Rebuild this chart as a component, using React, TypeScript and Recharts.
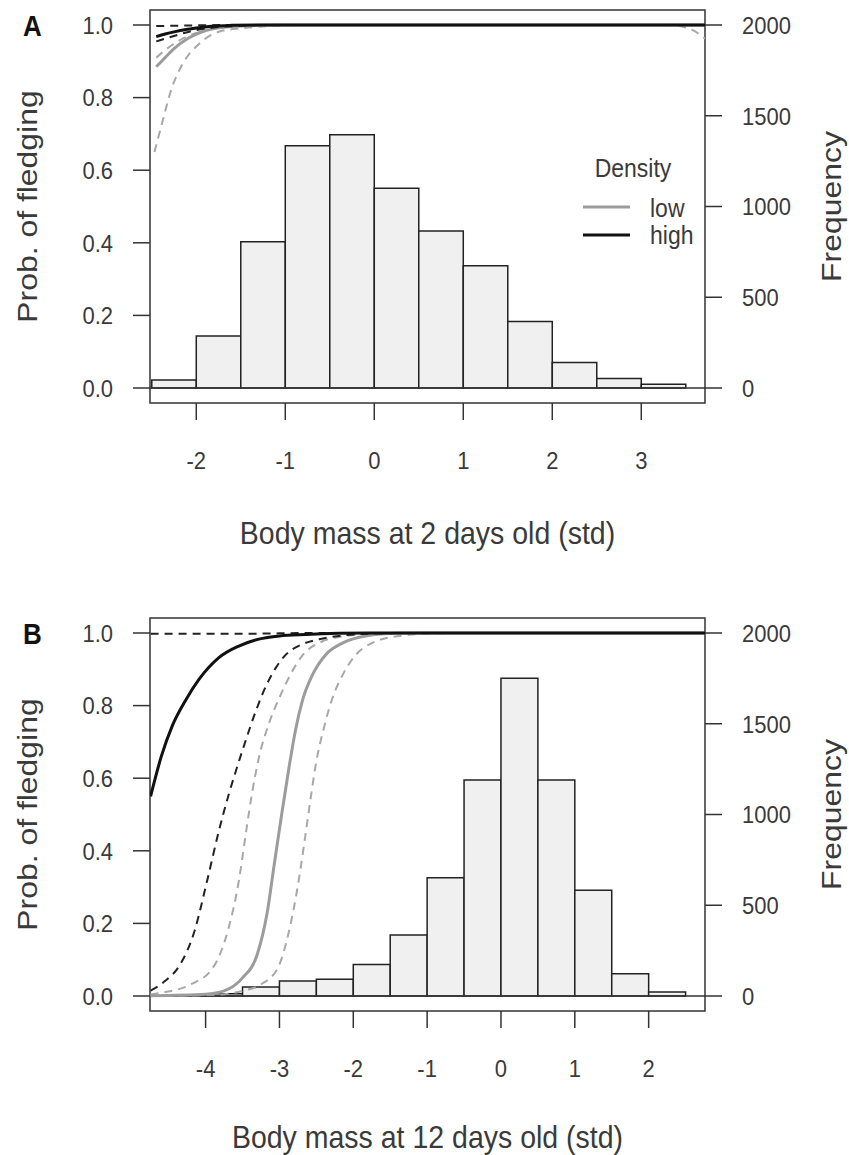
import React from 'react';
import { ComposedChart, Line, XAxis, YAxis, ReferenceArea, ReferenceLine, Legend } from 'recharts';

// ---------- data ----------
const PROB_TICKS = [0, 0.2, 0.4, 0.6, 0.8, 1.0];
const FREQ_TICKS = [0, 500, 1000, 1500, 2000];
const A_X_TICKS = [-2, -1, 0, 1, 2, 3];
const B_X_TICKS = [-4, -3, -2, -1, 0, 1, 2];

const A_BIN_EDGES = [-2.5, -2, -1.5, -1, -0.5, 0, 0.5, 1, 1.5, 2, 2.5, 3, 3.5];
const A_FREQ = [44, 286, 806, 1335, 1396, 1100, 865, 674, 367, 141, 53, 20];
const B_BIN_EDGES = [-4.5, -4, -3.5, -3, -2.5, -2, -1.5, -1, -0.5, 0, 0.5, 1, 1.5, 2, 2.5];
const B_FREQ = [4, 12, 50, 83, 92, 174, 336, 652, 1190, 1750, 1190, 582, 123, 22];

// [x, probability]
const A_LOW_LO = [[-2.47, 0.65], [-2.4, 0.715], [-2.27, 0.83], [-2.15, 0.894], [-1.96, 0.95], [-1.74, 0.982], [-1.49, 0.991], [-1.2, 0.997], [-0.8, 1.0], [3.3, 1.0], [3.5, 0.993], [3.6, 0.983], [3.716, 0.962]];
const A_LOW_HI = [[-2.45, 0.91], [-2.3, 0.94], [-2.15, 0.963], [-2.0, 0.978], [-1.8, 0.99], [-1.5, 0.997], [-1.2, 1.0], [3.716, 1.0]];
const A_LOW_FIT = [[-2.45, 0.885], [-2.35, 0.91], [-2.25, 0.935], [-2.1, 0.962], [-1.95, 0.98], [-1.8, 0.99], [-1.6, 0.996], [-1.3, 0.999], [-1.0, 1.0], [3.716, 1.0]];
const A_HIGH_LO = [[-2.45, 0.955], [-2.3, 0.966], [-2.15, 0.977], [-2.0, 0.986], [-1.8, 0.993], [-1.5, 0.998], [-1.2, 1.0], [3.716, 1.0]];
const A_HIGH_HI = [[-2.45, 0.997], [-2.0, 0.999], [-1.6, 1.0], [3.716, 1.0]];
const A_HIGH_FIT = [[-2.45, 0.968], [-2.35, 0.975], [-2.25, 0.981], [-2.1, 0.988], [-1.95, 0.993], [-1.8, 0.997], [-1.6, 0.999], [-1.3, 1.0], [3.716, 1.0]];

const B_LOW_LO = [[-4.745, 0.0], [-3.8, 0.004], [-3.5, 0.014], [-3.25, 0.032], [-3.02, 0.078], [-2.87, 0.179], [-2.74, 0.317], [-2.64, 0.455], [-2.57, 0.555], [-2.51, 0.635], [-2.39, 0.745], [-2.28, 0.822], [-2.14, 0.886], [-1.96, 0.941], [-1.74, 0.973], [-1.37, 0.992], [-0.9, 0.999], [-0.5, 1.0], [2.763, 1.0]];
const B_LOW_HI = [[-4.745, 0.004], [-4.6, 0.009], [-4.2, 0.032], [-3.9, 0.078], [-3.7, 0.179], [-3.55, 0.317], [-3.45, 0.455], [-3.37, 0.56], [-3.28, 0.655], [-3.14, 0.752], [-3.0, 0.822], [-2.87, 0.878], [-2.69, 0.938], [-2.46, 0.973], [-2.1, 0.992], [-1.6, 0.999], [-1.2, 1.0], [2.763, 1.0]];
const B_LOW_FIT = [[-4.745, 0.001], [-4.0, 0.005], [-3.75, 0.014], [-3.5, 0.05], [-3.3, 0.115], [-3.17, 0.225], [-3.07, 0.363], [-2.97, 0.5], [-2.87, 0.63], [-2.78, 0.735], [-2.69, 0.813], [-2.55, 0.886], [-2.37, 0.941], [-2.14, 0.973], [-1.83, 0.992], [-1.4, 0.999], [-1.0, 1.0], [2.763, 1.0]];
const B_HIGH_LO = [[-4.745, 0.015], [-4.55, 0.041], [-4.35, 0.085], [-4.15, 0.179], [-3.98, 0.317], [-3.82, 0.455], [-3.68, 0.56], [-3.59, 0.62], [-3.46, 0.702], [-3.32, 0.785], [-3.18, 0.855], [-3.05, 0.904], [-2.91, 0.941], [-2.69, 0.969], [-2.46, 0.983], [-2.19, 0.992], [-1.8, 0.998], [-1.4, 1.0], [2.763, 1.0]];
const B_HIGH_HI = [[-4.745, 0.998], [-3.5, 0.998], [-3.0, 0.999], [-2.6, 1.0], [2.763, 1.0]];
const B_HIGH_FIT = [[-4.745, 0.55], [-4.6, 0.66], [-4.45, 0.745], [-4.27, 0.815], [-4.09, 0.872], [-3.82, 0.932], [-3.55, 0.964], [-3.28, 0.983], [-3.0, 0.992], [-2.64, 0.996], [-2.2, 0.999], [-1.8, 1.0], [2.763, 1.0]];

const LEGEND_TITLE = 'Density';
const LEGEND_LABELS = ['low', 'high'];

// ---------- styles ----------
const FONT = '"Liberation Sans", Arial, Helvetica, sans-serif';
const SY = 1.12;
const TXT = '#3a3a3a';
const AX = '#333';
const GRAY = '#9c9c9c';
const GRAY_D = '#a8a8a8';
const BLACK = '#111';
const P_DOMAIN: [number, number] = [-0.04132, 1.04132];
const F_DOMAIN: [number, number] = [-82.64, 2082.64];
const PLOT_TOP = 10;
const PLOT_H = 393;

const pts = (arr: number[][]) => arr.map(([x, p]) => ({ x, p }));

const XTick = (props: any) => {
  const { x, y, payload } = props;
  return (
    <text transform={`translate(${x},${y + 48.5}) scale(1,${SY})`} textAnchor="middle" fontSize={22} fill={TXT} fontFamily={FONT}>
      {String(payload.value)}
    </text>
  );
};
const YTickL = (props: any) => {
  const { x, y, payload } = props;
  return (
    <text transform={`translate(${x},${y}) scale(1,${SY})`} textAnchor="end" dy="0.36em" fontSize={22} fill={TXT} fontFamily={FONT}>
      {Number(payload.value).toFixed(1)}
    </text>
  );
};
const YTickR = (props: any) => {
  const { x, y, payload } = props;
  return (
    <text transform={`translate(${x},${y}) scale(1,${SY})`} textAnchor="start" dy="0.36em" fontSize={22} fill={TXT} fontFamily={FONT}>
      {String(payload.value)}
    </text>
  );
};

const LegendBox = () => (
  <svg width={160} height={140} style={{ overflow: 'visible' }}>
    <text transform={`translate(73,57) scale(1,${SY})`} textAnchor="middle" fontSize={23} fill={TXT} fontFamily={FONT}>{LEGEND_TITLE}</text>
    <line x1={23} x2={70} y1={87} y2={87} stroke={GRAY} strokeWidth={3} />
    <line x1={23} x2={70} y1={115} y2={115} stroke={BLACK} strokeWidth={3} />
    <text transform={`translate(90,97) scale(1,${SY})`} fontSize={23} fill={TXT} fontFamily={FONT}>{LEGEND_LABELS[0]}</text>
    <text transform={`translate(90,124) scale(1,${SY})`} fontSize={23} fill={TXT} fontFamily={FONT}>{LEGEND_LABELS[1]}</text>
  </svg>
);

type PanelProps = {
  letter: string;
  xTitle: string;
  xDomain: [number, number];
  xTicks: number[];
  edges: number[];
  freqs: number[];
  curves: number[][][];
  height: number;
  titleBaseline: number;
  legend?: boolean;
};

const CURVE_STYLE = [
  { stroke: GRAY_D, w: 2, dash: '8 6' },
  { stroke: GRAY_D, w: 2, dash: '8 6' },
  { stroke: GRAY, w: 3, dash: undefined },
  { stroke: '#222', w: 2, dash: '8 6' },
  { stroke: '#222', w: 2, dash: '8 6' },
  { stroke: BLACK, w: 3, dash: undefined },
];

function Panel({ letter, xTitle, xDomain, xTicks, edges, freqs, curves, height, titleBaseline, legend }: PanelProps) {
  const xAxisH = height - PLOT_TOP - PLOT_H;
  const midY = PLOT_TOP + PLOT_H / 2;
  return (
    <ComposedChart width={849} height={height} margin={{ top: PLOT_TOP, right: 0, bottom: 0, left: 0 }}>
      <XAxis
        dataKey="x"
        type="number"
        domain={xDomain}
        allowDataOverflow
        ticks={xTicks}
        interval={0}
        height={xAxisH}
        axisLine={false}
        tickSize={17}
        tickMargin={0}
        tickLine={{ stroke: AX, strokeWidth: 1.5 }}
        tick={<XTick />}
        label={() => (
          <text transform={`translate(427.5,${titleBaseline}) scale(1,${SY})`} textAnchor="middle" fontSize={28.5} fill={TXT} fontFamily={FONT}>
            {xTitle}
          </text>
        )}
      />
      <YAxis
        yAxisId="p"
        orientation="left"
        width={150}
        type="number"
        domain={P_DOMAIN}
        allowDataOverflow
        ticks={PROB_TICKS}
        interval={0}
        axisLine={false}
        tickSize={17}
        tickMargin={20}
        tickLine={{ stroke: AX, strokeWidth: 1.5 }}
        tick={<YTickL />}
        label={() => (
          <g>
            <text transform={`translate(37,${midY}) rotate(-90) scale(${SY},1)`} textAnchor="middle" fontSize={28.5} fill={TXT} fontFamily={FONT}>
              Prob. of fledging
            </text>
            <text transform={`translate(32.5,36.4) scale(1,${SY})`} textAnchor="middle" fontSize={26} fontWeight="bold" fill="#111" fontFamily={FONT}>
              {letter}
            </text>
          </g>
        )}
      />
      <YAxis
        yAxisId="f"
        orientation="right"
        width={144}
        type="number"
        domain={F_DOMAIN}
        allowDataOverflow
        ticks={FREQ_TICKS}
        interval={0}
        axisLine={false}
        tickSize={17}
        tickMargin={20}
        tickLine={{ stroke: AX, strokeWidth: 1.5 }}
        tick={<YTickR />}
        label={() => (
          <text transform={`translate(841,${midY}) rotate(-90) scale(${SY},1)`} textAnchor="middle" fontSize={28.5} fill={TXT} fontFamily={FONT}>
            Frequency
          </text>
        )}
      />
      {freqs.map((f, i) => (
        <ReferenceArea
          key={`bin${i}`}
          yAxisId="f"
          x1={edges[i]}
          x2={edges[i + 1]}
          y1={0}
          y2={f}
          fill="#f0f0f0"
          fillOpacity={1}
          stroke="#222"
          strokeWidth={1.5}
          ifOverflow="visible"
        />
      ))}
      <ReferenceLine yAxisId="f" y={0} stroke={AX} strokeWidth={1.5} />
      {curves.map((c, i) => (
        <Line
          key={`c${i}`}
          yAxisId="p"
          data={pts(c)}
          dataKey="p"
          type="monotone"
          dot={false}
          activeDot={false}
          stroke={CURVE_STYLE[i].stroke}
          strokeWidth={CURVE_STYLE[i].w}
          strokeDasharray={CURVE_STYLE[i].dash}
          isAnimationActive={false}
          legendType="none"
        />
      ))}
      <ReferenceArea
        yAxisId="p"
        x1={xDomain[0]}
        x2={xDomain[1]}
        y1={P_DOMAIN[0]}
        y2={P_DOMAIN[1]}
        fill="none"
        stroke={AX}
        strokeWidth={1.5}
        ifOverflow="visible"
      />
      {legend && (
        <Legend
          layout="horizontal"
          verticalAlign="middle"
          align="center"
          wrapperStyle={{ left: 560, top: 120, width: 160, height: 140 }}
          content={() => <LegendBox />}
        />
      )}
    </ComposedChart>
  );
}

export default function App() {
  return (
    <div style={{ position: 'absolute', left: 0, top: 0, width: 849, height: 1155, background: '#fff', overflow: 'hidden' }}>
      <div style={{ position: 'absolute', left: 0, top: 0 }}>
        <Panel
          letter="A"
          xTitle="Body mass at 2 days old (std)"
          xDomain={[-2.52, 3.716]}
          xTicks={A_X_TICKS}
          edges={A_BIN_EDGES}
          freqs={A_FREQ}
          curves={[A_LOW_LO, A_LOW_HI, A_LOW_FIT, A_HIGH_LO, A_HIGH_HI, A_HIGH_FIT]}
          height={600}
          titleBaseline={544}
          legend
        />
      </div>
      <div style={{ position: 'absolute', left: 0, top: 608 }}>
        <Panel
          letter="B"
          xTitle="Body mass at 12 days old (std)"
          xDomain={[-4.753, 2.763]}
          xTicks={B_X_TICKS}
          edges={B_BIN_EDGES}
          freqs={B_FREQ}
          curves={[B_LOW_LO, B_LOW_HI, B_LOW_FIT, B_HIGH_LO, B_HIGH_HI, B_HIGH_FIT]}
          height={547}
          titleBaseline={540}
        />
      </div>
    </div>
  );
}
